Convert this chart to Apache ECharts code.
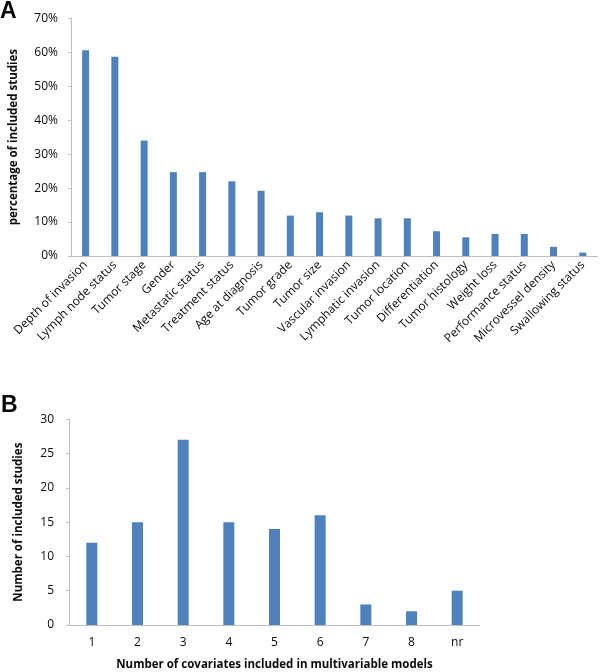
<!DOCTYPE html>
<html>
<head>
<meta charset="utf-8">
<script src="https://cdn.jsdelivr.net/npm/echarts@6/dist/echarts.min.js"></script>
<style>html,body{margin:0;padding:0;background:#fff;}#c{width:600px;height:672px;}</style>
</head>
<body>
<div id="c"></div>
<script>
var factorCategories = ["Depth of invasion","Lymph node status","Tumor stage","Gender","Metastatic status","Treatment status","Age at diagnosis","Tumor grade","Tumor size","Vascular invasion","Lymphatic invasion","Tumor location","Differentiation","Tumor histology","Weight loss","Performance status","Microvessel density","Swallowing status"];
var factorPercent = [60.6, 58.7, 34.0, 24.7, 24.7, 22.0, 19.2, 11.9, 12.9, 11.9, 11.1, 11.1, 7.3, 5.5, 6.5, 6.5, 2.7, 1.0];
var percentTicks = [0, 10, 20, 30, 40, 50, 60, 70];

var covariateCategories = ["1","2","3","4","5","6","7","8","nr"];
var covariateCounts = [12, 15, 27, 15, 14, 16, 3, 2, 5];
var countTicks = [0, 5, 10, 15, 20, 25, 30];

var FONT = "Open Sans";
var BAR = "#4F81BD";
var AX = "#BFBFBF";
var TXT = "#0a0a0a";

var chart = echarts.init(document.getElementById('c'), null, {renderer: 'canvas'});
chart.setOption({
  animation: false,
  backgroundColor: '#fff',
  textStyle: {fontFamily: FONT},
  graphic: [
    {type: 'text', left: 0, top: 0, style: {text: 'A', font: 'bold 23px "Liberation Sans"', fill: '#000'}},
    {type: 'text', left: 1, top: 394, style: {text: 'B', font: 'bold 23px "Liberation Sans"', fill: '#000'}}
  ],
  grid: [
    {left: 70, top: 18.3, width: 527.4, height: 237.7, containLabel: false},
    {left: 69, top: 419.3, width: 411, height: 206, containLabel: false}
  ],
  xAxis: [
    {
      type: 'category', gridIndex: 0, data: factorCategories,
      axisLine: {lineStyle: {color: AX, width: 1}},
      axisTick: {show: false},
      axisLabel: {rotate: 45, interval: 0, margin: 7, color: TXT, fontSize: 12, fontFamily: FONT}
    },
    {
      type: 'category', gridIndex: 1, data: covariateCategories,
      axisLine: {lineStyle: {color: AX, width: 1}},
      axisTick: {show: false},
      axisLabel: {interval: 0, margin: 12, color: TXT, fontSize: 12, fontFamily: FONT},
      name: 'Number of covariates included in multivariable models',
      nameLocation: 'middle', nameGap: 34,
      nameTextStyle: {fontWeight: 'bold', fontSize: 11.5, color: TXT, fontFamily: FONT}
    }
  ],
  yAxis: [
    {
      type: 'value', gridIndex: 0, min: percentTicks[0], max: percentTicks[percentTicks.length - 1], interval: 10,
      axisLine: {show: true, lineStyle: {color: AX, width: 1}},
      axisTick: {show: true, length: 3, lineStyle: {color: AX}},
      splitLine: {show: false},
      axisLabel: {formatter: '{value}%', margin: 13, color: TXT, fontSize: 12, fontFamily: FONT},
      name: 'percentage of included studies', nameLocation: 'middle', nameGap: 51,
      nameTextStyle: {fontWeight: 'bold', fontSize: 11.5, color: TXT, fontFamily: FONT}
    },
    {
      type: 'value', gridIndex: 1, min: countTicks[0], max: countTicks[countTicks.length - 1], interval: 5,
      axisLine: {show: true, lineStyle: {color: AX, width: 1}},
      axisTick: {show: true, length: 3, lineStyle: {color: AX}},
      splitLine: {show: false},
      axisLabel: {margin: 15, color: TXT, fontSize: 12, fontFamily: FONT},
      name: 'Number of included studies', nameLocation: 'middle', nameGap: 44,
      nameTextStyle: {fontWeight: 'bold', fontSize: 11.5, color: TXT, fontFamily: FONT}
    }
  ],
  series: [
    {type: 'bar', xAxisIndex: 0, yAxisIndex: 0, data: factorPercent, barWidth: 7, itemStyle: {color: BAR}},
    {type: 'bar', xAxisIndex: 1, yAxisIndex: 1, data: covariateCounts, barWidth: 11, itemStyle: {color: BAR}}
  ]
});
</script>
</body>
</html>
